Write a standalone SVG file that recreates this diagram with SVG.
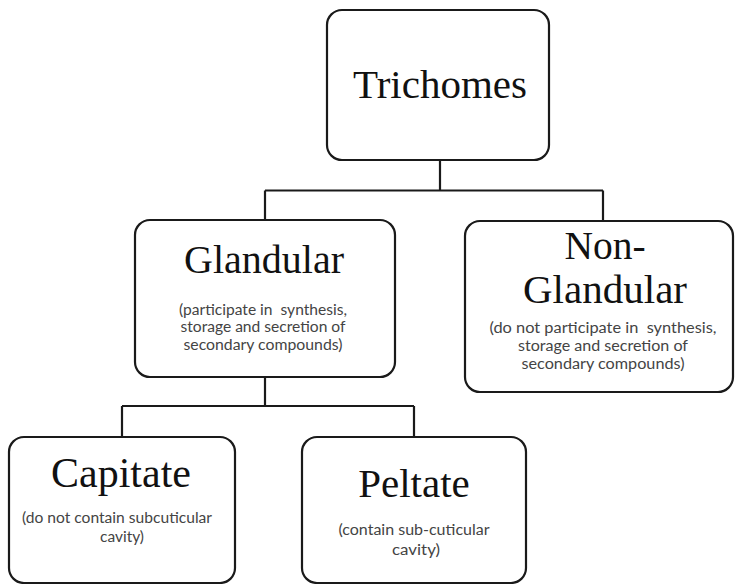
<svg xmlns="http://www.w3.org/2000/svg" width="737" height="584" viewBox="0 0 737 584">
  <style>
    .box { fill: #ffffff; stroke: #1a1a1a; stroke-width: 2.2; }
    .wire { fill: none; stroke: #1a1a1a; stroke-width: 2.2; }
    .title { font-family: "Liberation Serif", "Times New Roman", serif; fill: #111111; text-anchor: middle; }
    .note { font-family: Lato, "Liberation Sans", sans-serif; fill: #444444; text-anchor: middle; font-size: 15.5px; }
  </style>
  <rect width="737" height="584" fill="#ffffff"/>

  <g id="connectors">
    <path class="wire" d="M440 160 V190.5 M265 190.5 H603 M265 190.5 V220 M603 190.5 V221"/>
    <path class="wire" d="M265 377 V406 M122 406 H414 M122 406 V437 M414 406 V437"/>
  </g>

  <g id="trichomes">
    <rect class="box" x="327" y="10" width="222" height="150" rx="15"/>
    <text class="title" x="440" y="98" font-size="41">Trichomes</text>
  </g>

  <g id="glandular">
    <rect class="box" x="135" y="220" width="260" height="157" rx="15"/>
    <text class="title" x="264" y="273" font-size="40">Glandular</text>
    <text class="note" xml:space="preserve" x="263" y="315" textLength="168" lengthAdjust="spacingAndGlyphs">(participate in  synthesis,</text>
    <text class="note" x="263" y="332" textLength="165" lengthAdjust="spacingAndGlyphs">storage and secretion of</text>
    <text class="note" x="263" y="350" textLength="159" lengthAdjust="spacingAndGlyphs">secondary compounds)</text>
  </g>

  <g id="non-glandular">
    <rect class="box" x="465" y="221" width="268" height="171" rx="15"/>
    <text class="title" x="605" font-size="39.5"><tspan x="605" y="259">Non-</tspan><tspan x="605" y="303" textLength="164" lengthAdjust="spacingAndGlyphs">Glandular</tspan></text>
    <text class="note" xml:space="preserve" x="603" y="333" textLength="227" lengthAdjust="spacingAndGlyphs">(do not participate in  synthesis,</text>
    <text class="note" x="603" y="351" textLength="170" lengthAdjust="spacingAndGlyphs">storage and secretion of</text>
    <text class="note" x="603" y="369" textLength="163" lengthAdjust="spacingAndGlyphs">secondary compounds)</text>
  </g>

  <g id="capitate">
    <rect class="box" x="9" y="437" width="226" height="146" rx="15"/>
    <text class="title" x="121" y="487" font-size="42">Capitate</text>
    <text class="note" x="117" y="523" textLength="190" lengthAdjust="spacingAndGlyphs">(do not contain subcuticular</text>
    <text class="note" x="122" y="542" textLength="44" lengthAdjust="spacingAndGlyphs">cavity)</text>
  </g>

  <g id="peltate">
    <rect class="box" x="302" y="437" width="224" height="146" rx="15"/>
    <text class="title" x="414" y="497" font-size="41">Peltate</text>
    <text class="note" x="414" y="535" textLength="151" lengthAdjust="spacingAndGlyphs">(contain sub-cuticular</text>
    <text class="note" x="416" y="555" textLength="48" lengthAdjust="spacingAndGlyphs">cavity)</text>
  </g>
</svg>
